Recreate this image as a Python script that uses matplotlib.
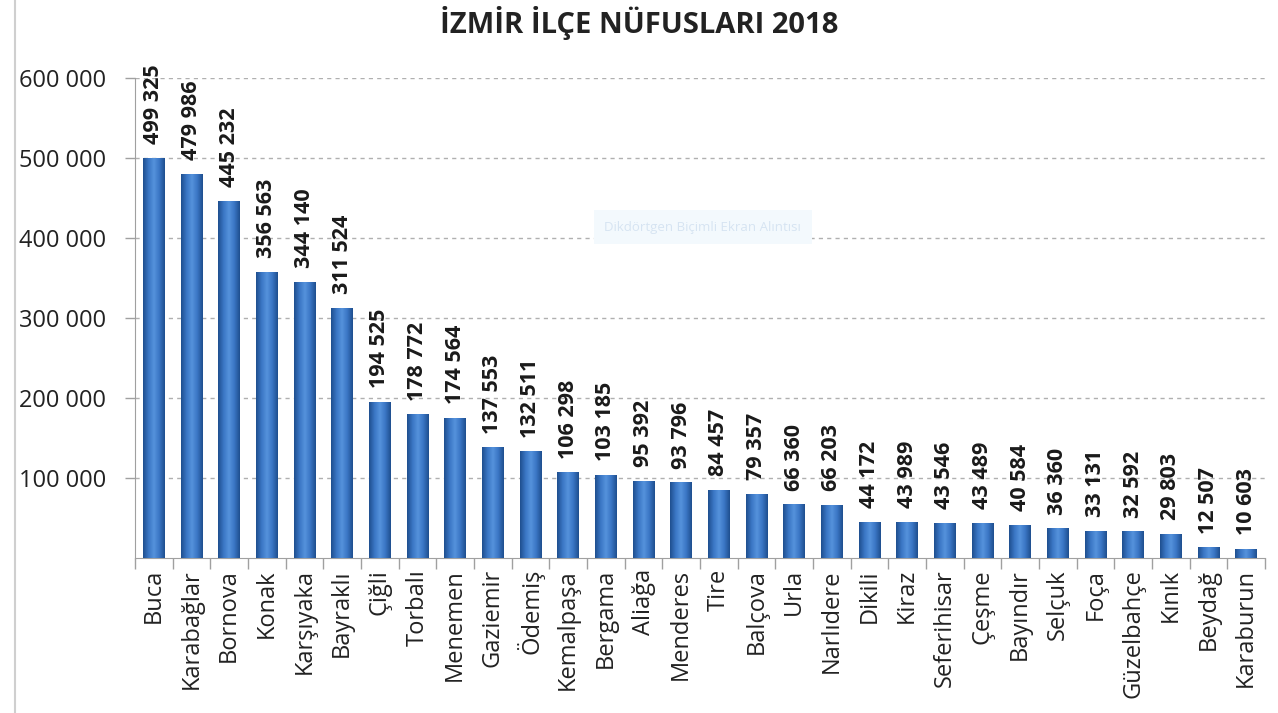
import matplotlib.pyplot as plt
import numpy as np
from matplotlib.colors import LinearSegmentedColormap
from matplotlib.lines import Line2D

ilceler = ["Buca", "Karabağlar", "Bornova", "Konak", "Karşıyaka", "Bayraklı",
           "Çiğli", "Torbalı", "Menemen", "Gaziemir", "Ödemiş", "Kemalpaşa",
           "Bergama", "Aliağa", "Menderes", "Tire", "Balçova", "Urla",
           "Narlıdere", "Dikili", "Kiraz", "Seferihisar", "Çeşme", "Bayındır",
           "Selçuk", "Foça", "Güzelbahçe", "Kınık", "Beydağ", "Karaburun"]
nufus = [499325, 479986, 445232, 356563, 344140, 311524, 194525, 178772,
         174564, 137553, 132511, 106298, 103185, 95392, 93796, 84457, 79357,
         66360, 66203, 44172, 43989, 43546, 43489, 40584, 36360, 33131,
         32592, 29803, 12507, 10603]
y_ticks = [100000, 200000, 300000, 400000, 500000, 600000]


def binlik(v):
    return f"{v:,}".replace(",", " ")


plt.rcParams['font.family'] = ['Open Sans', 'DejaVu Sans']

fig = plt.figure(figsize=(12.78, 7.13), dpi=100)
ax = fig.add_axes([135 / 1278, 1 - 558 / 713, 1130 / 1278, 480 / 713])

x = np.arange(len(ilceler))
genislik = 0.58

# silindir görünümü için yatay renk geçişi
cmap = LinearSegmentedColormap.from_list(
    "silindir", ["#1f4f8f", "#3a76c4", "#5592dc", "#3a76c4", "#1f4f8f"])
grad = np.linspace(0, 1, 64).reshape(1, -1)

bars = ax.bar(x, nufus, width=genislik, color="#3a76c4", zorder=3)
for b, v in zip(bars, nufus):
    x0 = b.get_x()
    ax.imshow(grad, cmap=cmap, aspect="auto", zorder=4,
              extent=[x0, x0 + genislik, 0, v])
    ax.text(b.get_x() + genislik / 2, v + 18000, binlik(v), rotation=90,
            ha="center", va="bottom", fontsize=15.5, fontweight="bold",
            color="#1a1a1a", zorder=5)

ax.set_xlim(-0.5, len(ilceler) - 0.5)
ax.set_ylim(0, 600000)

ax.set_yticks(y_ticks)
ax.set_yticklabels([binlik(t) for t in y_ticks], fontsize=17, color="#222222")
ax.yaxis.grid(True, linestyle=(0, (3, 3)), color="#b0b0b0", linewidth=1.0, zorder=0)

ax.set_xticks(x)
ax.set_xticklabels(ilceler, rotation=90, fontsize=17, color="#222222")
ax.set_xticks(np.arange(-0.5, len(ilceler)), minor=True)
ax.tick_params(axis="x", which="major", length=0, pad=8)
ax.tick_params(axis="x", which="minor", length=8, color="#a0a0a0", width=1)
ax.tick_params(axis="y", length=7, color="#a0a0a0", width=1, pad=14)

for s in ["top", "right"]:
    ax.spines[s].set_visible(False)
ax.spines["left"].set_color("#a0a0a0")
ax.spines["bottom"].set_color("#a0a0a0")

fig.text(0.5, 0.968, "İZMİR İLÇE NÜFUSLARI 2018", ha="center", va="center",
         fontsize=21, fontweight="bold", color="#222222")

# soluk ekran alıntısı izi
fig.text(0.55, 1 - 227 / 713, "Dikdörtgen Biçimli Ekran Alıntısı", ha="center",
         va="center", fontsize=9.5, color="#d6e4f2",
         bbox=dict(boxstyle="square,pad=0.8", fc="#f3f9fd", ec="none"))

fig.add_artist(Line2D([15 / 1278, 15 / 1278], [0, 1], color="#cfcfcf", linewidth=1.5))

fig.savefig("out.png", dpi=100)
